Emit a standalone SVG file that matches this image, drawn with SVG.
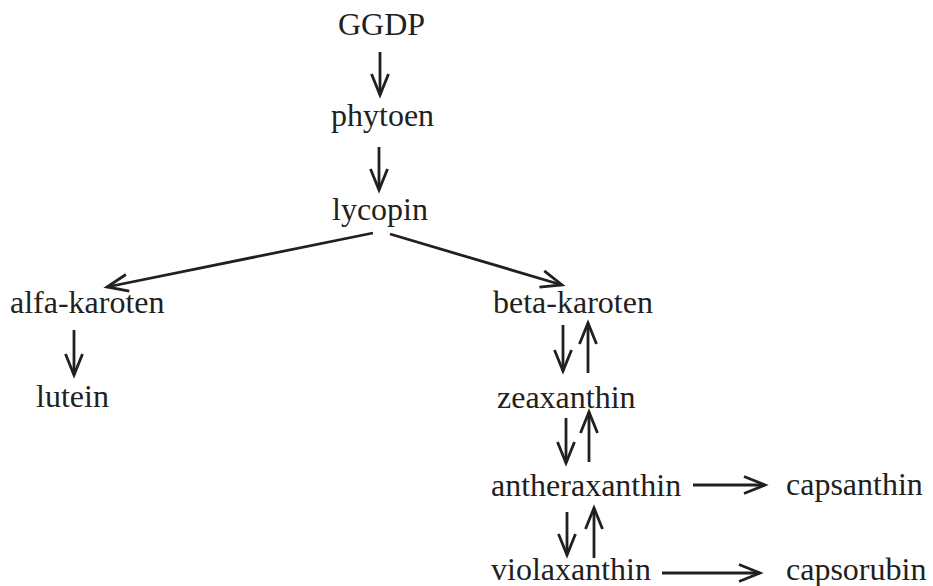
<svg xmlns="http://www.w3.org/2000/svg" width="933" height="586" viewBox="0 0 933 586">
<style>
text{font-family:"Liberation Serif","Times New Roman",serif;font-size:32px;fill:#231f20}
.c line{stroke:#231f20;stroke-width:2.8;marker-end:url(#ah)}
</style>
<defs>
<marker id="ah" markerUnits="userSpaceOnUse" viewBox="0 0 22 18" refX="21" refY="9" markerWidth="22" markerHeight="18" orient="auto" overflow="visible">
<path d="M0,0.5 L21,9 L0,17.5" fill="none" stroke="#231f20" stroke-width="2.8"/>
</marker>
</defs>
<rect width="933" height="586" fill="#fff"/>
<g id="GGDP"><text x="338" y="35">GGDP</text></g>
<g id="phytoen"><text x="331" y="126">phytoen</text></g>
<g id="lycopin"><text x="332" y="220">lycopin</text></g>
<g id="alfa-karoten"><text x="10" y="313">alfa-karoten</text></g>
<g id="lutein"><text x="36" y="407">lutein</text></g>
<g id="beta-karoten"><text x="493" y="313">beta-karoten</text></g>
<g id="zeaxanthin"><text x="497" y="408">zeaxanthin</text></g>
<g id="antheraxanthin"><text x="491" y="496">antheraxanthin</text></g>
<g id="capsanthin"><text x="786" y="495">capsanthin</text></g>
<g id="violaxanthin"><text x="491" y="580">violaxanthin</text></g>
<g id="capsorubin"><text x="786" y="580">capsorubin</text></g>
<g class="c" id="connectors">
<line x1="380" y1="52" x2="380" y2="95"/>
<line x1="379" y1="147" x2="379" y2="190"/>
<line x1="373" y1="233" x2="107" y2="287"/>
<line x1="390" y1="234" x2="562" y2="285"/>
<line x1="74" y1="330" x2="74" y2="375"/>
<line x1="563" y1="325" x2="563" y2="371"/>
<line x1="588" y1="373" x2="588" y2="323"/>
<line x1="566" y1="418" x2="566" y2="463"/>
<line x1="589" y1="462" x2="589" y2="412"/>
<line x1="567" y1="512" x2="567" y2="555"/>
<line x1="594" y1="558" x2="594" y2="508"/>
<line x1="693" y1="485" x2="765" y2="485"/>
<line x1="662" y1="573" x2="760" y2="573"/>
</g>
</svg>
